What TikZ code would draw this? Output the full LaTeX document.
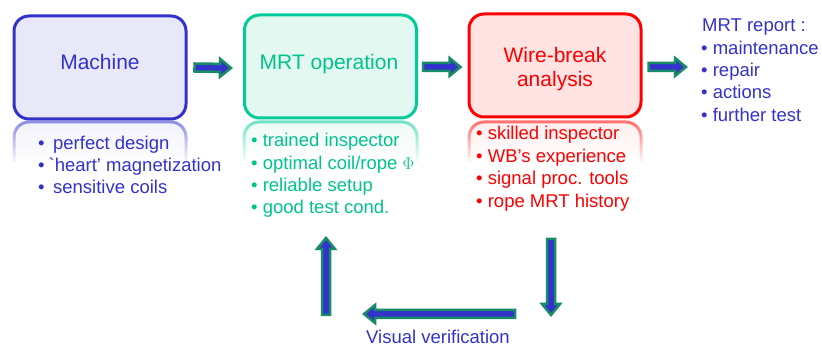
\documentclass[tikz,border=0pt]{standalone}
\usepackage{fontspec}
\setmainfont{Liberation Sans}
\usetikzlibrary{calc,fadings}
\definecolor{mblue}{RGB}{51,51,204}
\definecolor{mfill}{RGB}{232,232,248}
\definecolor{ogreen}{RGB}{0,204,153}
\definecolor{otext}{RGB}{0,196,140}
\definecolor{ofill}{RGB}{226,248,241}
\definecolor{wred}{RGB}{255,0,0}
\definecolor{wfill}{RGB}{255,226,226}
\definecolor{agreen}{RGB}{24,140,104}
\tikzfading[name=reflfade, top color=transparent!45, bottom color=transparent!100]
\newcommand\blkarr[2]{%
  \coordinate (hb) at ($(#2)!11pt!(#1)$);
  \draw[blkarrow] ($(#1)!4pt!90:(#2)$) -- ($(hb)!4pt!90:(#2)$) -- ($(hb)!9pt!90:(#2)$) -- (#2)
    -- ($(hb)!9pt!-90:(#2)$) -- ($(hb)!4pt!-90:(#2)$) -- ($(#1)!4pt!-90:(#2)$) -- cycle;}
\begin{document}
\begin{tikzpicture}[x=1pt,y=-1pt,
  box/.style={rounded corners=15pt, line width=3pt, minimum width=172pt, minimum height=103pt, inner sep=0pt},
  refl/.style={rounded corners=15pt, line width=3pt, path fading=reflfade},
  title/.style={font=\fontsize{21}{25}\selectfont, anchor=base, inner sep=0pt},
  item/.style={font=\fontsize{18.5}{22}\selectfont, anchor=base west, inner sep=0pt},
  blkarrow/.style={draw=agreen, fill=mblue, line width=2.5pt, line join=miter}]
\useasboundingbox[fill=white] (0,0) rectangle (822,347);

% reflections
\path[refl, draw=mblue, fill=mfill] (14,162) -- (14,122) -- (186,122) -- (186,162);
\path[refl, draw=ogreen, fill=ofill] (244,162) -- (244,122) -- (417,122) -- (417,162);
\path[refl, draw=wred, fill=wfill] (469,162) -- (469,122) -- (641,122) -- (641,162);

% boxes
\node[box, draw=mblue, fill=mfill] (m) at (100,67.5) {};
\node[box, draw=ogreen, fill=ofill] (o) at (330.5,66.5) {};
\node[box, draw=wred, fill=wfill] (w) at (555,65.5) {};

% titles
\node[title, text=mblue] (mt) at (100,70) {Machine};
\node[title, text=otext] (ot) at (329,70) {MRT operation};
\node[title, text=wred] (wt1) at (555,63) {Wire-break};
\node[title, text=wred] (wt2) at (555,87) {analysis};

% Machine list
\node[item, text=mblue] (m1) at (38,150) {•\hspace{8.5pt}perfect design};
\node[item, text=mblue] (m2) at (38,172) {•\hspace{4pt}\textasciigrave heart’ magnetization};
\node[item, text=mblue] (m3) at (38,194) {•\hspace{8.5pt}sensitive coils};

% MRT operation list
\node[item, text=otext] (o1) at (251,147) {• trained inspector};
\node[item, text=otext] (o2) at (251,169.3) {• optimal coil/rope $\Phi$};
\node[item, text=otext] (o3) at (251,191.6) {• reliable setup};
\node[item, text=otext] (o4) at (251,214) {• good test cond.};

% Wire-break list
\node[item, text=wred] (w1) at (476,140) {• skilled inspector};
\node[item, text=wred] (w2) at (476,162.5) {• WB's experience};
\node[item, text=wred] (w3) at (476,185) {• signal proc. tools};
\node[item, text=wred] (w4) at (476,207.5) {• rope MRT history};

% report
\node[item, text=mblue] (r0) at (702,32) {MRT report :};
\node[item, text=mblue] (r1) at (701,54.5) {• maintenance};
\node[item, text=mblue] (r2) at (701,77) {• repair};
\node[item, text=mblue] (r3) at (701,99) {• actions};
\node[item, text=mblue] (r4) at (701,121.5) {• further test};

% visual verification
\node[item, text=mblue] (vv) at (366,343) {Visual verification};

% arrow end points
\coordinate (a1s) at ([xshift=7pt]m.east);
\coordinate (a1e) at ([xshift=-12pt]o.west|-0,68);
\coordinate (a2s) at ([xshift=5pt]o.east|-0,67);
\coordinate (a2e) at ([xshift=-7pt]w.west|-0,67);
\coordinate (a3s) at ([xshift=6pt]w.east|-0,67);
\coordinate (a3e) at (686,67);
\coordinate (dns) at (551,239);
\coordinate (dne) at (551,315);
\coordinate (lfs) at (515,314);
\coordinate (lfe) at (364,314);
\coordinate (ups) at (326,315);
\coordinate (upe) at (326,238);

\blkarr{a1s}{a1e}
\blkarr{a2s}{a2e}
\blkarr{a3s}{a3e}
\blkarr{dns}{dne}
\blkarr{lfs}{lfe}
\blkarr{ups}{upe}
\end{tikzpicture}
\end{document}
